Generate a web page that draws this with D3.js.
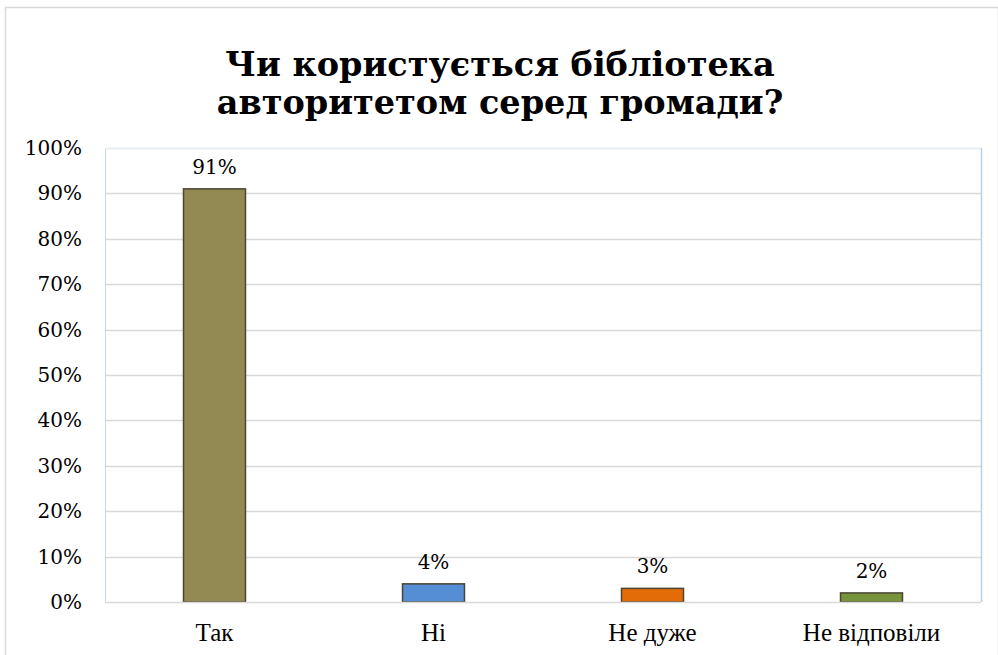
<!DOCTYPE html>
<html>
<head>
<meta charset="utf-8">
<script src="https://cdn.jsdelivr.net/npm/d3@7"></script>
<style>
  html, body { margin: 0; padding: 0; background: #fff; }
  svg { display: block; }
</style>
</head>
<body>
<svg id="chart" width="998" height="655"></svg>
<script>
// Survey answers and their shares
const categories = ["Так", "Ні", "Не дуже", "Не відповіли"];
const values = [0.91, 0.04, 0.03, 0.02];
const barColors = ["#938953", "#558ED5", "#E36C09", "#77933C"];
const yTicks = [0, 0.1, 0.2, 0.3, 0.4, 0.5, 0.6, 0.7, 0.8, 0.9, 1.0];
const titleLines = ["Чи користується бібліотека", "авторитетом серед громади?"];

const svg = d3.select("#chart");
const W = 998, H = 655;
const plot = { left: 105, right: 981, top: 148, bottom: 602 };
const pct = d3.format(".0%");
const numFont = "'DejaVu Serif', serif";
const catFont = "'Liberation Serif', serif";

// outer chart frame
svg.append("rect")
  .attr("x", 5.5).attr("y", 7.5)
  .attr("width", W - 5).attr("height", H)
  .attr("fill", "#fff").attr("stroke", "#d9d9d9").attr("stroke-width", 1.5);

// title
const title = svg.append("text")
  .attr("text-anchor", "middle")
  .style("font-family", numFont)
  .style("font-weight", "bold")
  .style("font-size", "33.5px")
  .attr("fill", "#000");
titleLines.forEach((t, i) => {
  title.append("tspan").attr("x", 500).attr("y", 76 + i * 38).text(t);
});

const x = d3.scaleBand()
  .domain(categories)
  .range([plot.left, plot.right])
  .paddingInner(0.717)
  .paddingOuter(0.3585);

const y = d3.scaleLinear().domain([0, 1]).range([plot.bottom, plot.top]);

// gridlines
svg.append("g")
  .selectAll("line")
  .data(yTicks.slice(1))
  .join("line")
  .attr("x1", plot.left).attr("x2", plot.right)
  .attr("y1", d => Math.round(y(d)) + 0.5).attr("y2", d => Math.round(y(d)) + 0.5)
  .attr("stroke", "#d9d9d9").attr("stroke-width", 1.5);

// plot area borders
svg.append("line")
  .attr("x1", plot.left + 0.5).attr("x2", plot.left + 0.5)
  .attr("y1", plot.top).attr("y2", plot.bottom)
  .attr("stroke", "#c6d9f1").attr("stroke-width", 1);
svg.append("line")
  .attr("x1", plot.right + 0.5).attr("x2", plot.right + 0.5)
  .attr("y1", plot.top).attr("y2", plot.bottom)
  .attr("stroke", "#b9cde5").attr("stroke-width", 1.5);
svg.append("line")
  .attr("x1", plot.left).attr("x2", plot.right)
  .attr("y1", plot.top + 0.5).attr("y2", plot.top + 0.5)
  .attr("stroke", "#e6eef8").attr("stroke-width", 1);

// y axis labels
const yAxis = d3.axisLeft(y)
  .tickValues(yTicks)
  .tickFormat(pct)
  .tickSize(0)
  .tickPadding(23);
svg.append("g")
  .attr("transform", `translate(${plot.left},0)`)
  .call(yAxis)
  .call(g => g.select(".domain").remove())
  .selectAll("text")
  .style("font-family", numFont)
  .style("font-size", "20px")
  .attr("fill", "#000");

// bars
svg.append("g")
  .selectAll("rect")
  .data(categories)
  .join("rect")
  .attr("x", d => x(d))
  .attr("y", (d, i) => y(values[i]))
  .attr("width", x.bandwidth())
  .attr("height", (d, i) => y(0) - y(values[i]))
  .attr("fill", (d, i) => barColors[i])
  .attr("stroke", "#4a4632").attr("stroke-width", 1.5);

// baseline
svg.append("line")
  .attr("x1", plot.left).attr("x2", plot.right)
  .attr("y1", plot.bottom + 0.5).attr("y2", plot.bottom + 0.5)
  .attr("stroke", "#d9d9d9").attr("stroke-width", 1.5);

// value labels
svg.append("g")
  .selectAll("text")
  .data(categories)
  .join("text")
  .attr("x", d => x(d) + x.bandwidth() / 2)
  .attr("y", (d, i) => y(values[i]) - 15)
  .attr("text-anchor", "middle")
  .style("font-family", numFont)
  .style("font-size", "20px")
  .attr("fill", "#000")
  .text((d, i) => pct(values[i]));

// category labels
const xAxis = d3.axisBottom(x).tickSize(0).tickPadding(21);
svg.append("g")
  .attr("transform", `translate(0,${plot.bottom})`)
  .call(xAxis)
  .call(g => g.select(".domain").remove())
  .selectAll("text")
  .style("font-family", catFont)
  .style("font-size", "25px")
  .attr("fill", "#000");
</script>
</body>
</html>
